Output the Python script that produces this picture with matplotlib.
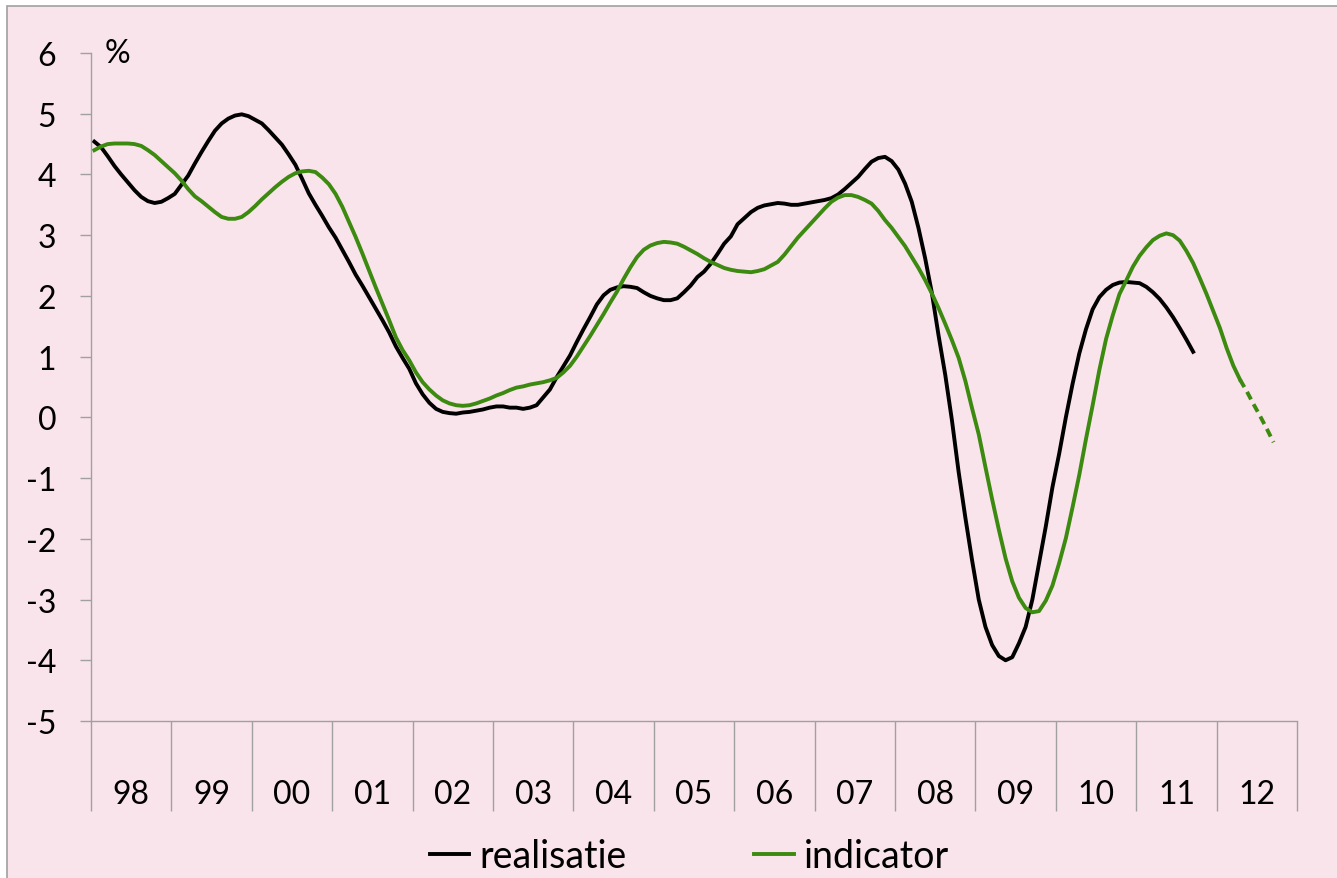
import numpy as np
import matplotlib
matplotlib.use("Agg")
import matplotlib.pyplot as plt
from matplotlib.patches import Rectangle

plt.rcParams['font.family'] = ['Lato', 'DejaVu Sans']
plt.rcParams['axes.unicode_minus'] = False

# year labels, one category block of 12 months each (1998 - 2012)
years = ['98', '99', '00', '01', '02', '03', '04', '05', '06', '07', '08', '09', '10', '11', '12']

# monthly values, starting january 1998
realisatie = [
    4.54, 4.45, 4.30, 4.14, 4.00, 3.87, 3.74, 3.63, 3.56, 3.53, 3.55, 3.61,
    3.68, 3.83, 3.98, 4.18, 4.37, 4.55, 4.72, 4.84, 4.92, 4.97, 4.99, 4.96,
    4.90, 4.84, 4.73, 4.61, 4.49, 4.33, 4.16, 3.93, 3.69, 3.50, 3.32, 3.13,
    2.96, 2.76, 2.56, 2.35, 2.17, 1.98, 1.79, 1.60, 1.40, 1.17, 0.98, 0.80,
    0.56, 0.38, 0.24, 0.14, 0.09, 0.07, 0.06, 0.08, 0.09, 0.11, 0.13, 0.16,
    0.18, 0.18, 0.16, 0.16, 0.14, 0.16, 0.20, 0.33, 0.46, 0.66, 0.84, 1.02,
    1.24, 1.45, 1.65, 1.86, 2.01, 2.10, 2.14, 2.16, 2.15, 2.13, 2.06, 2.00,
    1.96, 1.93, 1.93, 1.96, 2.06, 2.17, 2.31, 2.40, 2.53, 2.69, 2.86, 2.98,
    3.18, 3.28, 3.38, 3.45, 3.49, 3.51, 3.53, 3.52, 3.50, 3.50, 3.52, 3.54,
    3.56, 3.58, 3.61, 3.67, 3.76, 3.86, 3.96, 4.09, 4.21, 4.27, 4.29, 4.22,
    4.08, 3.85, 3.55, 3.12, 2.62, 2.05, 1.35, 0.70, -0.05, -0.90, -1.65, -2.35,
    -3.00, -3.45, -3.75, -3.93, -4.00, -3.95, -3.72, -3.45, -3.00, -2.40, -1.80, -1.15,
    -0.60, 0.00, 0.55, 1.05, 1.45, 1.78, 1.98, 2.10, 2.18, 2.22, 2.23, 2.22,
    2.21, 2.15, 2.06, 1.95, 1.81, 1.65, 1.47, 1.28, 1.08,
]

indicator = [
    4.40, 4.46, 4.50, 4.51, 4.51, 4.51, 4.50, 4.47, 4.40, 4.32, 4.22, 4.12,
    4.02, 3.90, 3.76, 3.64, 3.56, 3.47, 3.38, 3.30, 3.27, 3.27, 3.30, 3.38,
    3.48, 3.59, 3.69, 3.79, 3.88, 3.96, 4.02, 4.05, 4.06, 4.04, 3.95, 3.84,
    3.68, 3.47, 3.22, 2.97, 2.70, 2.42, 2.14, 1.87, 1.60, 1.32, 1.11, 0.94,
    0.74, 0.58, 0.46, 0.36, 0.28, 0.23, 0.20, 0.19, 0.20, 0.23, 0.27, 0.31,
    0.36, 0.40, 0.45, 0.49, 0.51, 0.54, 0.56, 0.58, 0.61, 0.65, 0.74, 0.85,
    1.00, 1.17, 1.34, 1.52, 1.70, 1.89, 2.07, 2.28, 2.47, 2.64, 2.76, 2.83,
    2.87, 2.89, 2.88, 2.86, 2.81, 2.75, 2.69, 2.62, 2.56, 2.51, 2.46, 2.43,
    2.41, 2.40, 2.39, 2.41, 2.44, 2.50, 2.56, 2.68, 2.82, 2.96, 3.08, 3.20,
    3.32, 3.44, 3.55, 3.62, 3.66, 3.66, 3.63, 3.58, 3.52, 3.40, 3.25, 3.12,
    2.97, 2.82, 2.64, 2.46, 2.26, 2.04, 1.80, 1.54, 1.27, 0.98, 0.60, 0.15,
    -0.28, -0.82, -1.35, -1.85, -2.32, -2.70, -2.97, -3.14, -3.21, -3.19, -3.02, -2.77,
    -2.40, -1.99, -1.48, -0.95, -0.36, 0.20, 0.78, 1.29, 1.68, 2.03, 2.25, 2.48,
    2.66, 2.80, 2.92, 2.99, 3.03, 3.00, 2.91, 2.74, 2.54, 2.29, 2.03, 1.75,
    1.47, 1.14, 0.85, 0.62,
]

# dashed tail of the indicator (from the last solid month on)
indicator_forecast = [0.62, 0.43, 0.22, 0.02, -0.19, -0.41]

black = '#000000'
green = '#3c8a10'
grey = '#a0a0a0'
pink = '#fae4ec'

fig = plt.figure(figsize=(13.37, 8.79), dpi=100)
fig.patch.set_facecolor('white')
# pink frame, border only visible at left and top
fig.patches.append(Rectangle((7 / 1337, -0.1), 1.2, 1.1 - 7 / 879,
                             transform=fig.transFigure, facecolor=pink,
                             edgecolor=grey, linewidth=1.2, zorder=-10))

ax = fig.add_axes([91 / 1337, 1 - 722 / 879, (1297 - 91) / 1337, (722 - 54) / 879])
ax.set_facecolor('none')

n_months = 12 * len(years)
x_real = np.arange(len(realisatie)) + 0.5
x_ind = np.arange(len(indicator)) + 0.5
x_fc = np.arange(len(indicator) - 1, len(indicator) - 1 + len(indicator_forecast)) + 0.5

ax.plot(x_real, realisatie, color=black, lw=2.8, label='realisatie', solid_joinstyle='round')
ax.plot(x_ind, indicator, color=green, lw=2.8, label='indicator', solid_joinstyle='round')
ax.plot(x_fc, indicator_forecast, color=green, lw=2.8, linestyle=(0, (2.2, 1.4)))

ax.set_xlim(0, n_months)
ax.set_ylim(-5, 6)

# y axis
ax.set_yticks(np.arange(-5, 7, 1))
ax.tick_params(axis='y', direction='out', length=8, width=1, color=grey, pad=17,
               labelsize=23)
ax.text(2, 6, '%', fontsize=23, va='center', ha='left')

# x axis: separators between years, labels in the middle
ax.set_xticks(np.arange(0, n_months + 1, 12))
ax.set_xticklabels([])
ax.set_xticks(np.arange(6, n_months, 12), minor=True)
ax.set_xticklabels(years, minor=True)
ax.tick_params(axis='x', which='major', direction='out', length=65, width=1, color=grey)
ax.tick_params(axis='x', which='minor', length=0, pad=42, labelsize=23)

for s in ['top', 'right']:
    ax.spines[s].set_visible(False)
for s in ['left', 'bottom']:
    ax.spines[s].set_color(grey)
    ax.spines[s].set_linewidth(1)

leg = fig.legend(loc='center', bbox_to_anchor=(0.5157, 1 - 857 / 879), ncol=2,
                 frameon=False, fontsize=27, handlelength=1.05, handletextpad=0.27,
                 columnspacing=3.4)

fig.savefig('out.png', dpi=100)
